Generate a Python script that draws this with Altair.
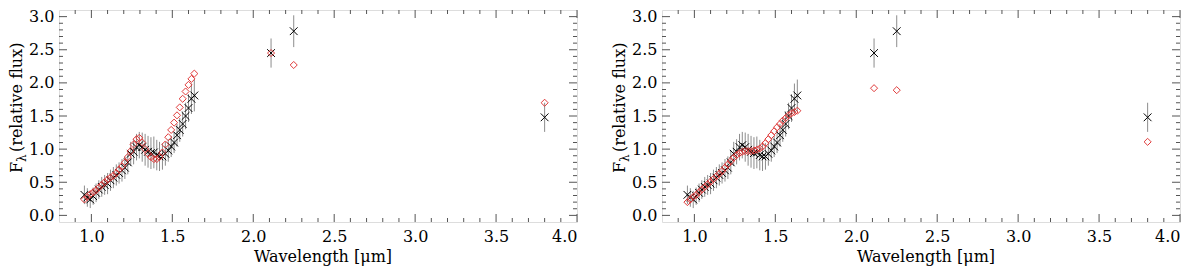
import altair as alt
import pandas as pd

# ---- data ----
wavelength = [0.957, 0.975, 0.993, 1.011, 1.029, 1.046, 1.064, 1.082, 1.100, 1.118,
              1.136, 1.154, 1.171, 1.189, 1.207, 1.225, 1.243, 1.261, 1.279, 1.296,
              1.314, 1.332, 1.350, 1.368, 1.386, 1.404, 1.421, 1.439, 1.457, 1.475,
              1.493, 1.511, 1.529, 1.546, 1.564, 1.582, 1.600, 1.618, 1.636]
obs_flux = [0.31, 0.27, 0.24, 0.29, 0.34, 0.39, 0.43, 0.46, 0.48, 0.53,
            0.57, 0.61, 0.64, 0.68, 0.72, 0.80, 0.93, 0.96, 1.03, 1.06,
            1.03, 0.99, 0.96, 0.94, 0.95, 0.91, 0.89, 0.89, 0.93, 0.98,
            1.04, 1.10, 1.21, 1.29, 1.38, 1.50, 1.62, 1.76, 1.81]
obs_err = [0.14, 0.14, 0.13, 0.13, 0.14, 0.14, 0.15, 0.15, 0.16, 0.16,
           0.16, 0.16, 0.16, 0.17, 0.17, 0.18, 0.18, 0.19, 0.20, 0.20,
           0.22, 0.24, 0.24, 0.24, 0.24, 0.23, 0.22, 0.20, 0.18, 0.17,
           0.16, 0.16, 0.17, 0.18, 0.19, 0.20, 0.21, 0.23, 0.24]
model_left = [0.24, 0.28, 0.32, 0.35, 0.38, 0.42, 0.46, 0.50, 0.54, 0.57,
              0.60, 0.64, 0.69, 0.74, 0.80, 0.88, 0.97, 1.07, 1.15, 1.17,
              1.10, 1.00, 0.93, 0.88, 0.85, 0.85, 0.88, 0.95, 1.07, 1.18,
              1.29, 1.40, 1.51, 1.63, 1.76, 1.87, 1.97, 2.06, 2.14]
model_right = [0.20, 0.24, 0.28, 0.31, 0.35, 0.39, 0.43, 0.47, 0.51, 0.55,
               0.59, 0.63, 0.67, 0.72, 0.77, 0.82, 0.87, 0.91, 0.94, 0.96,
               0.97, 0.97, 0.97, 0.98, 0.99, 1.01, 1.04, 1.09, 1.15, 1.21,
               1.27, 1.33, 1.38, 1.43, 1.47, 1.51, 1.54, 1.56, 1.58]

phot_wavelength = [2.11, 2.25, 3.80]
phot_flux = [2.45, 2.78, 1.48]
phot_err = [0.22, 0.24, 0.22]
phot_model_left = [2.45, 2.27, 1.70]
phot_model_right = [1.92, 1.89, 1.11]

x_major = [1.0, 1.5, 2.0, 2.5, 3.0, 3.5, 4.0]
x_minor = [0.9, 1.1, 1.2, 1.3, 1.4, 1.6, 1.7, 1.8, 1.9, 2.1, 2.2, 2.3, 2.4,
           2.6, 2.7, 2.8, 2.9, 3.1, 3.2, 3.3, 3.4, 3.6, 3.7, 3.8, 3.9]
y_major = [0.0, 0.5, 1.0, 1.5, 2.0, 2.5, 3.0]
y_minor = [0.1, 0.2, 0.3, 0.4, 0.6, 0.7, 0.8, 0.9, 1.1, 1.2, 1.3, 1.4,
           1.6, 1.7, 1.8, 1.9, 2.1, 2.2, 2.3, 2.4, 2.6, 2.7, 2.8, 2.9]
x_title = "Wavelength [μm]"
y_title_parts = ["F", "λ", "(relative flux)"]

W, H = 518, 212
FS = 16
FONT = "DejaVu Serif"
TICK_COLOR = "#555555"


def panel(model_spec, model_phot):
    xs = alt.Scale(domain=[0.8, 4.0], nice=False, zero=False)
    ys = alt.Scale(domain=[-0.1, 3.1], nice=False, zero=False)
    x_axis = alt.Axis(values=x_major, format=".1f", ticks=False, domain=False, grid=False,
                      labelFont=FONT, labelFontSize=FS, labelColor="black", labelPadding=6,
                      title=None)
    y_axis = alt.Axis(values=y_major, format=".1f", ticks=False, domain=False, grid=False,
                      labelFont=FONT, labelFontSize=FS, labelColor="black", labelPadding=5,
                      title=None)

    def X(field):
        return alt.X(field, type="quantitative", scale=xs, axis=x_axis)

    def Y(field):
        return alt.Y(field, type="quantitative", scale=ys, axis=y_axis)

    spec = pd.DataFrame({"wl": wavelength + phot_wavelength,
                         "obs": obs_flux + phot_flux,
                         "err": obs_err + phot_err,
                         "model": model_spec + model_phot})
    base = alt.Chart(spec).transform_calculate(
        lo="datum.obs - datum.err", hi="datum.obs + datum.err")

    errbars = base.mark_rule(color="#8c8c8c", strokeWidth=1).encode(
        x=X("wl"), y=Y("lo"), y2="hi:Q")
    crosses = base.mark_point(shape="M-1,-1L1,1M-1,1L1,-1", filled=False,
                              color="black", strokeWidth=1, size=60, opacity=1).encode(
        x=X("wl"), y=Y("obs"))
    diamonds = base.mark_point(shape="diamond", filled=False, color="#e03a3a",
                               strokeWidth=1, size=50, opacity=1).encode(
        x=X("wl"), y=Y("model"))

    xmaj = pd.DataFrame({"v": x_major})
    xmin = pd.DataFrame({"v": x_minor})
    ymaj = pd.DataFrame({"v": y_major})
    ymin = pd.DataFrame({"v": y_minor})
    ticks = []
    for d, ln in ((xmaj, 8), (xmin, 4)):
        ticks.append(alt.Chart(d).mark_rule(color=TICK_COLOR, strokeWidth=1).encode(
            x=X("v"), y=alt.value(H), y2=alt.value(H - ln)))
        ticks.append(alt.Chart(d).mark_rule(color=TICK_COLOR, strokeWidth=1).encode(
            x=X("v"), y=alt.value(0), y2=alt.value(ln)))
    for d, ln in ((ymaj, 8), (ymin, 4)):
        ticks.append(alt.Chart(d).mark_rule(color=TICK_COLOR, strokeWidth=1).encode(
            y=Y("v"), x=alt.value(0), x2=alt.value(ln)))
        ticks.append(alt.Chart(d).mark_rule(color=TICK_COLOR, strokeWidth=1).encode(
            y=Y("v"), x=alt.value(W), x2=alt.value(W - ln)))

    tdf = pd.DataFrame({"t": y_title_parts + [x_title]})

    def label(txt, x, y, size, angle=None, align="left"):
        kw = dict(align=align, baseline="alphabetic", font=FONT, fontSize=size,
                  color="black")
        if angle is not None:
            kw["angle"] = angle
        return alt.Chart(tdf).transform_filter(
            alt.FieldEqualPredicate(field="t", equal=txt)).mark_text(**kw).encode(
            x=alt.value(x), y=alt.value(y), text="t:N")

    tF = label(y_title_parts[0], -37, 163, FS, 270)
    tL = label(y_title_parts[1], -33, 152, 12, 270)
    tR = label(y_title_parts[2], -37, 142, FS, 270)
    tX = label(x_title, W / 2 + 5, H + 40, FS, None, "center")

    return alt.layer(errbars, crosses, diamonds, *ticks, tF, tL, tR, tX).properties(
        width=W, height=H)


chart = alt.hconcat(panel(model_left, phot_model_left),
                    panel(model_right, phot_model_right),
                    spacing=33).properties(
    padding=0
).configure_view(stroke="#333333", strokeWidth=1).configure(background="white")

chart.save("out.html", embed_options={"renderer": "svg", "actions": False})
